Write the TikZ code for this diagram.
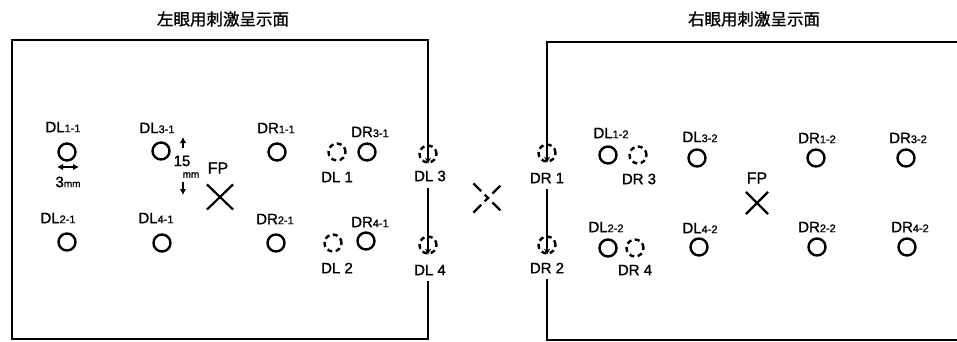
\documentclass[tikz,border=0pt]{standalone}
\usepackage{fontspec}
\setmainfont[FakeBold=1.2]{Liberation Sans}
\newfontfamily\jpfont[FakeBold=1]{Noto Sans CJK JP}
\usepackage{tikz}
\usetikzlibrary{calc,arrows.meta,shapes.misc}
\tikzset{
	boxedge/.style={draw=black,line width=2pt},
	stim/.style={circle,draw=black,line width=2.4pt,minimum size=17pt,inner sep=0pt},
	vstim/.style={stim,dash pattern=on 5pt off 3.5pt},
	lab/.style={font=\fontsize{15}{15}\selectfont,inner sep=0pt},
	ttl/.style={font=\jpfont\fontsize{16.5}{16.5}\selectfont,inner sep=0pt},
	tiparrow/.style={-{Stealth[length=6pt,width=6pt]}},
	dimarrow/.style={line width=1.6pt,-{Latex[length=6pt,width=6.5pt]}},
	dimboth/.style={line width=1.6pt,{Latex[length=6pt,width=6.5pt]}-{Latex[length=6pt,width=6.5pt]}},
	fpmark/.style={draw=black,cross out,line width=2.2pt,inner sep=0pt}
}
\newcommand{\sublab}[2]{#1{\fontsize{11}{11}\selectfont #2}}

\begin{document}
\begin{tikzpicture}[x=1pt,y=-1pt]
	\useasboundingbox (0,0) rectangle (957,342);
	% titles
	\node[ttl] (ttlL) at (223,19) {左眼用刺激呈示面};
	\node[ttl] (ttlR) at (754,19) {右眼用刺激呈示面};
	% stimuli
	\foreach \n/\x/\y in {dl11/67/152,dl21/67/242,dl31/161/151,dl41/162/243,
			dr11/277/152,dr21/276/243,dr31/367/152,dr41/366/241,
			dl12/608/155,dl22/608/248,dl32/697/158,dl42/699/247,
			dr12/816/158,dr22/817/247,dr32/906/158,dr42/907/247}
		\node[stim] (\n) at (\x,\y) {};
	\foreach \n/\x/\y in {vdl1/337/152,vdl2/333/243,vdl3/428/154,vdl4/428/245,
			vdr1/547/153,vdr2/547/245,vdr3/638/155,vdr4/635/248}
		\node[vstim] (\n) at (\x,\y) {};
	% labels
	\foreach \n/\x/\y/\t in {ldl11/63/127/\sublab{DL}{1-1},ldl21/58/218/\sublab{DL}{2-1},
			ldl31/157/128/\sublab{DL}{3-1},ldl41/156/218/\sublab{DL}{4-1},
			ldr11/276/128/\sublab{DR}{1-1},ldr21/275/219/\sublab{DR}{2-1},
			ldr31/370/132/\sublab{DR}{3-1},ldr41/370/222/\sublab{DR}{4-1},
			ldl12/611/133/\sublab{DL}{1-2},ldl22/606/227/\sublab{DL}{2-2},
			ldl32/700/137/\sublab{DL}{3-2},ldl42/700/228/\sublab{DL}{4-2},
			ldr12/817/138/\sublab{DR}{1-2},ldr22/817/227/\sublab{DR}{2-2},
			ldr32/908/138/\sublab{DR}{3-2},ldr42/910/227/\sublab{DR}{4-2},
			ldl1/337/177/DL 1,ldl2/337/268/DL 2,ldl3/430/176/DL 3,ldl4/430/270/DL 4,
			ldr1/547/178/DR 1,ldr2/547/268/DR 2,ldr3/639/179/DR 3,ldr4/635/270/DR 4}
		\node[lab] (\n) at (\x,\y) {\t};
	% fixation points
	\node[fpmark,minimum width=24pt,minimum height=23pt] (fpL) at (220,197) {};
	\node[fpmark,minimum size=20pt] (fpR) at (757,203) {};
	\node[fpmark,minimum size=27pt,dash pattern=on 11pt off 5pt on 6pt off 5pt] (fpC) at (488,198) {};
	\node[lab,font=\fontsize{16}{16}\selectfont] (lfpL) at (218,168) {FP};
	\node[lab,font=\fontsize{16}{16}\selectfont] (lfpR) at (757,178) {FP};
	% sizes
	\coordinate (wa) at (57,167);
	\coordinate (wb) at (79,167);
	\draw[dimboth] (wa) -- (wb);
	\node[lab] (wlab) at (68,182) {3{\fontsize{10}{10}\selectfont mm}};
	\coordinate (ha) at (183,148);
	\coordinate (hb) at (183,137);
	\coordinate (hc) at (183,182);
	\coordinate (hd) at (183,195);
	\draw[dimarrow] (ha) -- (hb);
	\draw[dimarrow] (hc) -- (hd);
	\node[lab] (hlab) at (182,161) {15};
	\node[lab,font=\fontsize{10}{10}\selectfont] (hmm) at (191,175) {mm};
	% left screen
	\coordinate (lbTL) at (12,40);
	\coordinate (lbTR) at (428,40);
	\coordinate (lbBL) at (12,339);
	\coordinate (lbBR) at (428,339);
	\draw[boxedge,tiparrow] ($(lbBR |- ldl4.south)+(0,6)$) -- (lbBR) -- (lbBL) -- (lbTL) -- (lbTR) -- (vdl3.south);
	\draw[boxedge,tiparrow] ($(vdl4 |- ldl3.south)+(0,6)$) -- (vdl4.south);
	% right screen
	\coordinate (rbTL) at (547,42);
	\coordinate (rbTR) at (957,42);
	\coordinate (rbBL) at (547,340);
	\coordinate (rbBR) at (957,340);
	\draw[boxedge,tiparrow] (rbTR) -- (rbTL) -- (vdr1.south);
	\draw[boxedge,tiparrow] ($(vdr2 |- ldr1.south)+(0,6)$) -- (vdr2.south);
	\draw[boxedge] ($(rbBL |- ldr2.south)+(0,6)$) -- (rbBL) -- (rbBR);
\end{tikzpicture}
\end{document}
